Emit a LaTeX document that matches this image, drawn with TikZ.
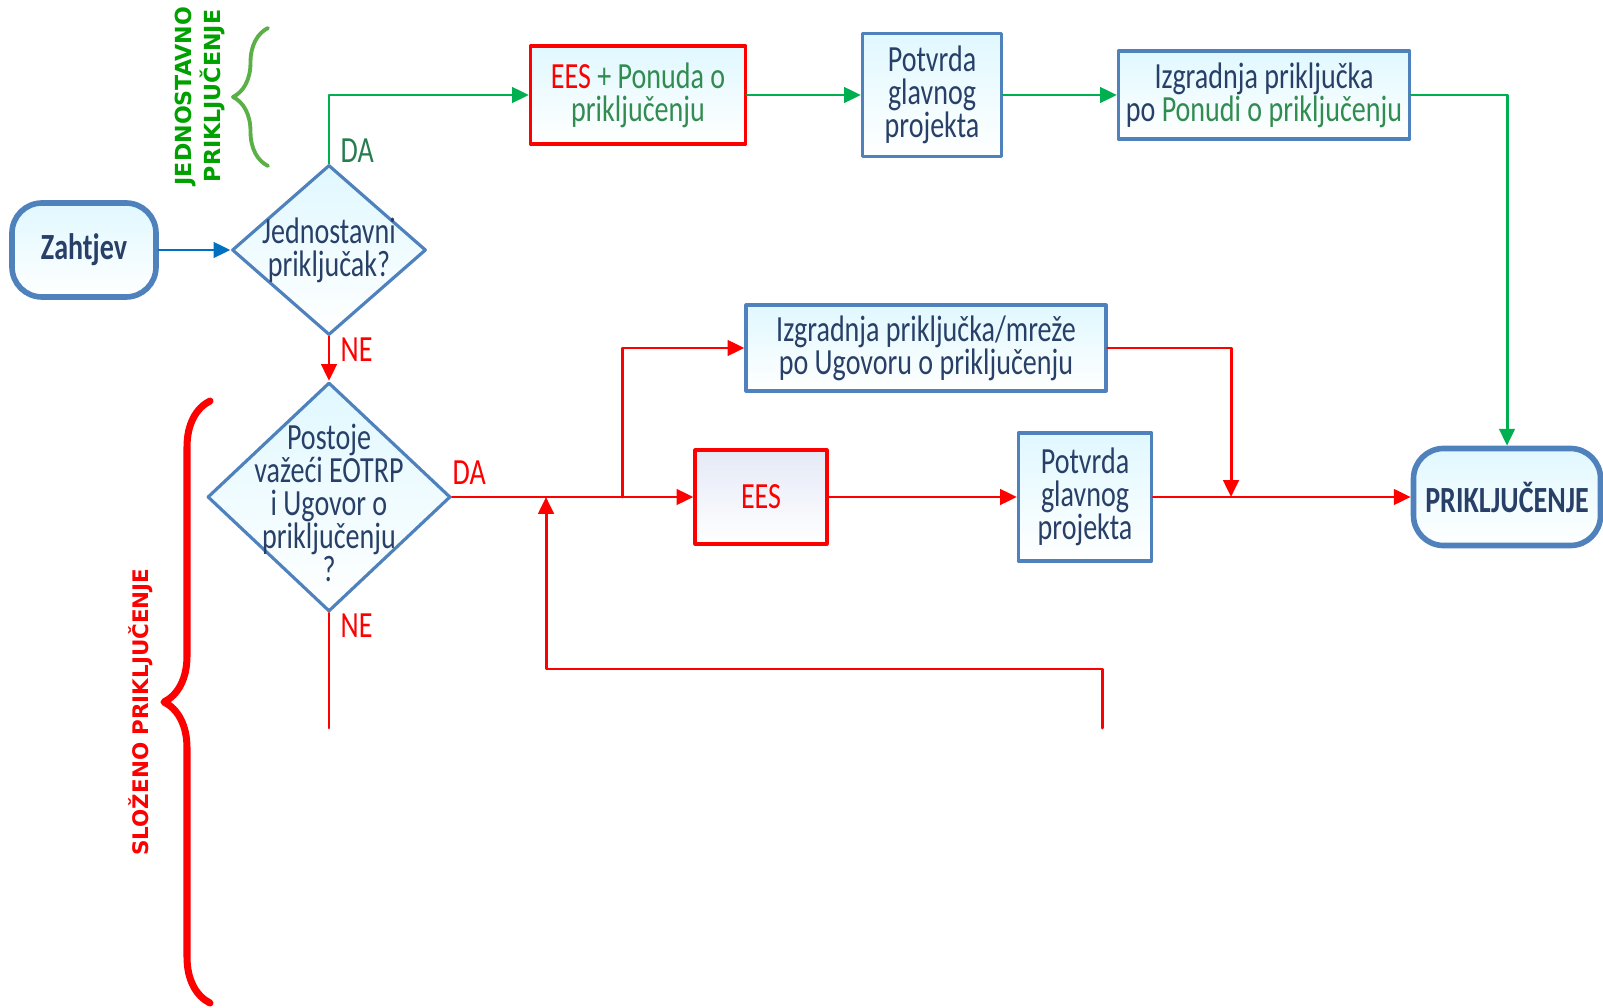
\documentclass[tikz,border=0pt]{standalone}
\usepackage{color}
\usepackage{fontspec}
\setmainfont{Carlito}[FakeStretch=0.76]
\newfontfamily\labfont{DejaVu Sans}
\usepackage{pgf,tikz}
\usetikzlibrary{arrows,arrows.meta,shapes.geometric,decorations.pathreplacing}
\definecolor{boxblue}{RGB}{79,129,189}
\definecolor{txtblue}{RGB}{40,64,104}
\definecolor{fillcyan}{RGB}{224,248,255}
\definecolor{fillees}{RGB}{228,233,246}
\definecolor{lnblue}{RGB}{0,112,192}
\definecolor{lngreen}{RGB}{0,176,80}
\definecolor{txtgreen}{RGB}{50,140,80}
\definecolor{dagreen}{RGB}{40,125,80}
\definecolor{labgreen}{RGB}{0,160,0}
\definecolor{bracegreen}{RGB}{90,175,70}
\definecolor{lnred}{RGB}{255,0,0}

\begin{document}
\begin{tikzpicture}[line cap=round,line join=round,>={Triangle[length=4.8pt,width=4.4pt]},x=1.0cm,y=1.0cm,
  every node/.style={font=\fontsize{10.5}{9.4}\selectfont,text=txtblue,align=center},
  procbox/.style={draw=boxblue,line width=0.9pt,top color=fillcyan,bottom color=white,inner sep=0pt},
  redbox/.style={procbox,draw=lnred},
  decbox/.style={diamond,draw=boxblue,line width=0.9pt,top color=fillcyan,bottom color=white,inner sep=0pt},
  endbox/.style={procbox,line width=1.6pt,rounded corners=0.3cm,font=\fontsize{10.5}{11}\selectfont\bfseries},
  greenln/.style={lngreen,line width=0.85pt},
  redln/.style={lnred,line width=0.85pt},
  yesno/.style={anchor=west,inner sep=0pt}]
\useasboundingbox (0,0) rectangle (16.03,10.07);
\node[endbox,minimum width=1.44cm,minimum height=0.94cm] (zah) at (0.84,7.57) {Zahtjev};
\node[decbox,minimum width=1.94cm,minimum height=1.70cm] (d1) at (3.29,7.57) {};
\node (d1t) at (d1.center) {Jednostavni\\priključak?};
\node[redbox,minimum width=2.15cm,minimum height=0.98cm] (eesp) at (6.38,9.12) {{\color{lnred}EES} {\color{txtgreen}+ Ponuda o}\\{\color{txtgreen}priključenju}};
\node[procbox,minimum width=1.39cm,minimum height=1.23cm] (pot1) at (9.32,9.12) {Potvrda\\glavnog\\projekta};
\node[procbox,minimum width=2.91cm,minimum height=0.88cm] (izg1) at (12.64,9.12) {Izgradnja priključka\\po {\color{txtgreen}Ponudi o priključenju}};
\node[endbox,minimum width=1.87cm,minimum height=0.97cm] (pri) at (15.07,5.10) {PRIKLJUČENJE};
\node[decbox,minimum width=2.43cm,minimum height=2.29cm] (d2) at (3.29,5.10) {};
\node (d2t) at ([yshift=-0.06cm]d2.center) {Postoje\\važeći EOTRP\\i Ugovor o\\priključenju\\?};
\node[procbox,minimum width=3.60cm,minimum height=0.86cm] (izg2) at (9.26,6.59) {Izgradnja priključka/mreže\\po Ugovoru o priključenju};
\node[redbox,top color=fillees,minimum width=1.32cm,minimum height=0.94cm,text=lnred] (ees) at (7.61,5.10) {EES};
\node[procbox,minimum width=1.33cm,minimum height=1.28cm] (pot2) at (10.85,5.10) {Potvrda\\glavnog\\projekta};
\coordinate (jup) at (6.22,5.10);
\coordinate (jdn) at (12.31,5.10);
\coordinate (fbs) at (11.02,2.79);
\coordinate (fbc) at (5.46,3.38);
\coordinate (fbe) at (5.46,5.10);
\coordinate (neend) at (3.29,2.79);
\draw[->,lnblue,line width=0.85pt] (zah.east) -- (d1.west);
\draw[->,greenln] (d1.north) |- (eesp.west);
\draw[->,greenln] (eesp.east) -- (pot1.west);
\draw[->,greenln] (pot1.east) -- (izg1.west);
\draw[->,greenln] (izg1.east) -| (pri.north);
\draw[->,redln] (d1.south) -- (d2.north);
\draw[->,redln] (d2.east) -- (ees.west);
\draw[->,redln] (jup) |- (izg2.west);
\draw[->,redln] (ees.east) -- (pot2.west);
\draw[->,redln] (pot2.east) -- (pri.west);
\draw[->,redln] (izg2.east) -| (jdn);
\draw[->,redln] (fbs) |- (fbc) -- (fbe);
\draw[redln] (d2.south) -- (neend);
\node[yesno,text=dagreen] (da1) at (3.40,8.56) {DA};
\node[yesno,text=lnred] (ne1) at (3.40,6.57) {NE};
\node[yesno,text=lnred] (da2) at (4.52,5.34) {DA};
\node[yesno,text=lnred] (ne2) at (3.40,3.81) {NE};
\draw[bracegreen,line width=1.1pt,decorate,decoration={brace,amplitude=0.35cm}] (2.68,8.41) -- (2.68,9.79);
\draw[lnred,line width=2pt,decorate,decoration={brace,amplitude=0.46cm}] (2.10,0.04) -- (2.10,6.06);
\node[rotate=90,text=labgreen,font=\labfont\bfseries\fontsize{6.3}{8.1}\selectfont] (jlab) at (2.00,9.11) {JEDNOSTAVNO\\PRIKLJUČENJE};
\node[rotate=90,text=lnred,font=\labfont\bfseries\fontsize{6.1}{7}\selectfont] (slab) at (1.41,2.95) {SLOŽENO PRIKLJUČENJE};
\end{tikzpicture}
\end{document}
